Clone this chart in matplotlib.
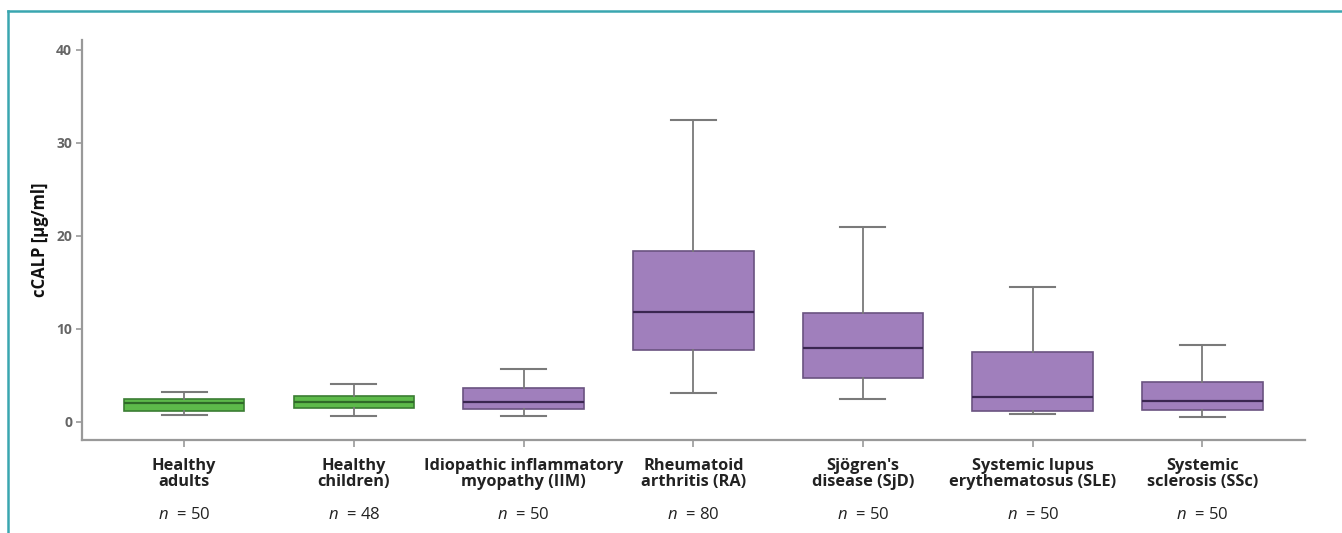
import matplotlib
matplotlib.use("Agg")
import matplotlib.pyplot as plt
from matplotlib.lines import Line2D
from matplotlib import transforms

plt.rcParams['font.family'] = ['Open Sans', 'DejaVu Sans']
plt.rcParams['mathtext.fontset'] = 'custom'
plt.rcParams['mathtext.it'] = 'Open Sans:italic'
plt.rcParams['mathtext.rm'] = 'Open Sans'

categories = ["Healthy\nadults", "Healthy\nchildren)", "Idiopathic inflammatory\nmyopathy (IIM)",
              "Rheumatoid\narthritis (RA)", "Sjögren's\ndisease (SjD)",
              "Systemic lupus\nerythematosus (SLE)", "Systemic\nsclerosis (SSc)"]
n_values = [50, 48, 50, 80, 50, 50, 50]
whisker_low = [0.72, 0.61, 0.58, 3.05, 2.44, 0.79, 0.54]
q1 = [1.15, 1.44, 1.33, 7.7, 4.73, 1.18, 1.29]
median = [2.04, 2.15, 2.08, 11.8, 7.9, 2.66, 2.26]
q3 = [2.44, 2.8, 3.59, 18.3, 11.7, 7.53, 4.24]
whisker_high = [3.23, 4.05, 5.67, 32.4, 20.9, 14.45, 8.2]
groups = ["healthy", "healthy", "disease", "disease", "disease", "disease", "disease"]
y_ticks = [0, 10, 20, 30, 40]
y_label = "cCALP [µg/ml]"

fill = {"healthy": "#5dba4a", "disease": "#a07fbc"}
edge = {"healthy": "#3b7d33", "disease": "#6a5380"}
med_c = {"healthy": "#2f6a28", "disease": "#3a2650"}

fig = plt.figure(figsize=(13.42, 5.33), dpi=100)
ax = fig.add_axes([0.0609, 0.1745, 0.9115, 0.7505])

stats = []
for i in range(len(categories)):
    stats.append(dict(whislo=whisker_low[i], q1=q1[i], med=median[i], q3=q3[i],
                      whishi=whisker_high[i], fliers=[]))
positions = list(range(len(categories)))
bp = ax.bxp(stats, positions=positions, widths=0.71, patch_artist=True,
            showfliers=False, capwidths=0.265)
for i, g in enumerate(groups):
    bp['boxes'][i].set_facecolor(fill[g])
    bp['boxes'][i].set_edgecolor(edge[g])
    bp['boxes'][i].set_linewidth(1.2)
    bp['medians'][i].set_color(med_c[g])
    bp['medians'][i].set_linewidth(1.6)
for w in bp['whiskers']:
    w.set_color("#7a7a7a"); w.set_linewidth(1.3)
for c in bp['caps']:
    c.set_color("#7a7a7a"); c.set_linewidth(1.5)

ax.set_xlim(-0.603, 6.604)
ax.set_ylim(-1.97, 41.04)
ax.set_yticks(y_ticks)
ax.set_yticklabels([str(t) for t in y_ticks], fontsize=10, color="#666666", fontweight='bold')
ax.set_xticks(positions)
ax.set_xticklabels(categories, fontsize=11.8, fontweight='bold', color="#222222", linespacing=0.98)
ax.tick_params(axis='x', length=5, color="#999999", width=1.2, pad=8)
ax.tick_params(axis='y', length=4, color="#999999", width=1.2, pad=3)
for s in ['top', 'right']:
    ax.spines[s].set_visible(False)
for s in ['left', 'bottom']:
    ax.spines[s].set_color("#999999")
    ax.spines[s].set_linewidth(1.6)
ax.set_ylabel(y_label, fontsize=12, fontweight='bold', color="#111111", labelpad=5)

trans = transforms.blended_transform_factory(ax.transData, fig.transFigure)
for p, n in zip(positions, n_values):
    ax.text(p, 1 - 515/533, r"$n$" + f"  = {n}", transform=trans,
            ha='center', va='center', fontsize=12, color="#222222")

# teal frame
fig.add_artist(Line2D([8/1342, 1.0], [1-11/533, 1-11/533], transform=fig.transFigure,
                      color="#3aa6b0", linewidth=1.8))
fig.add_artist(Line2D([8/1342, 8/1342], [0, 1-11/533], transform=fig.transFigure,
                      color="#3aa6b0", linewidth=1.8))

fig.savefig("out.png", dpi=100)
